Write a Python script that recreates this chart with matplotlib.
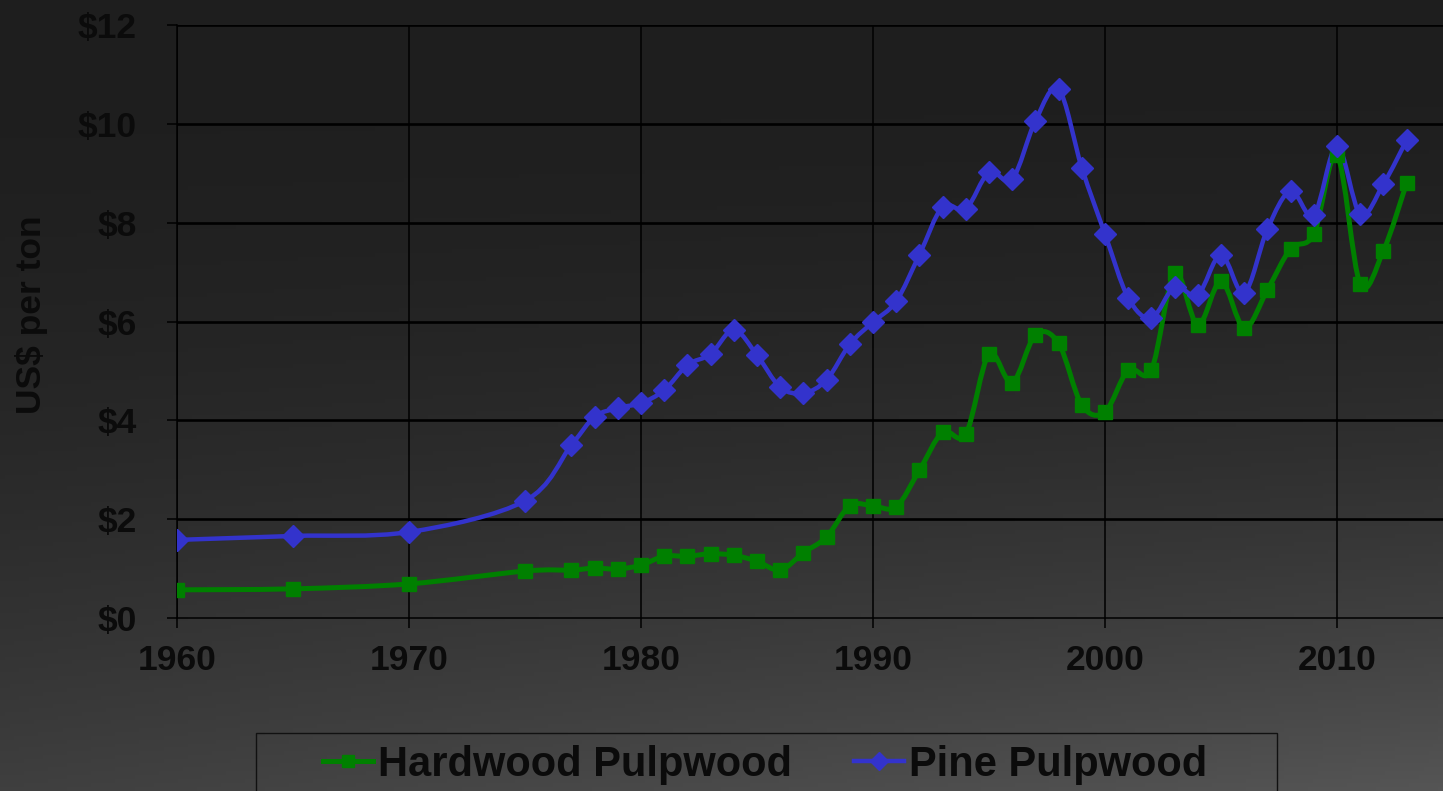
import matplotlib
matplotlib.use("Agg")
import matplotlib.pyplot as plt
from matplotlib.lines import Line2D
from matplotlib.path import Path
from matplotlib.patches import PathPatch, Rectangle
import numpy as np

# data
years = [1960, 1965, 1970, 1975, 1977, 1978, 1979, 1980, 1981, 1982, 1983, 1984,
         1985, 1986, 1987, 1988, 1989, 1990, 1991, 1992, 1993, 1994, 1995, 1996,
         1997, 1998, 1999, 2000, 2001, 2002, 2003, 2004, 2005, 2006, 2007, 2008,
         2009, 2010, 2011, 2012, 2013]
hardwood = [0.57, 0.59, 0.69, 0.95, 0.97, 1.01, 0.99, 1.07, 1.25, 1.25, 1.30, 1.27,
            1.15, 0.97, 1.32, 1.64, 2.27, 2.27, 2.25, 2.99, 3.76, 3.72, 5.34, 4.76,
            5.73, 5.56, 4.31, 4.17, 5.02, 5.02, 6.98, 5.93, 6.82, 5.87, 6.64, 7.47,
            7.77, 9.37, 6.76, 7.43, 8.80]
pine = [1.58, 1.66, 1.74, 2.37, 3.50, 4.07, 4.25, 4.35, 4.61, 5.12, 5.34, 5.83,
        5.32, 4.67, 4.55, 4.82, 5.54, 5.99, 6.41, 7.35, 8.32, 8.28, 9.02, 8.88,
        10.06, 10.70, 9.11, 7.77, 6.48, 6.07, 6.70, 6.54, 7.35, 6.58, 7.87, 8.64,
        8.15, 9.55, 8.17, 8.78, 9.67]
series_names = ["Hardwood Pulpwood", "Pine Pulpwood"]
yticks = [0, 2, 4, 6, 8, 10, 12]
xticks = [1960, 1970, 1980, 1990, 2000, 2010]

GREEN = "#008000"
BLUE = "#3333CC"
TEXT = "#0b0b0b"

plt.rcParams["font.family"] = ["Liberation Sans", "DejaVu Sans"]
plt.rcParams["font.weight"] = "bold"


def smooth_path(x, y):
    """Excel-style smoothed line as cubic Bezier segments through the points."""
    pts = np.column_stack([x, y]).astype(float)
    n = len(pts)
    verts = [pts[0]]
    codes = [Path.MOVETO]
    for i in range(n - 1):
        p0 = pts[i - 1] if i > 0 else pts[i]
        p1 = pts[i]
        p2 = pts[i + 1]
        p3 = pts[i + 2] if i + 2 < n else pts[i + 1]
        verts += [p1 + (p2 - p0) / 6.0, p2 - (p3 - p1) / 6.0, p2]
        codes += [Path.CURVE4] * 3
    return Path(verts, codes)


W, H = 1443, 791
fig = plt.figure(figsize=(W / 100, H / 100), dpi=100)

# gradient backdrop, darker at top, lighter toward bottom right
bg = fig.add_axes([0, 0, 1, 1], zorder=-10)
ty = np.linspace(0, 1, 200)[:, None]
tx = np.linspace(0, 1, 300)[None, :]
v = (30 + 33 * ty ** 2 + 22 * tx * ty ** 2) / 255.0
bg.imshow(np.dstack([v, v, v]), aspect="auto", extent=[0, 1, 1, 0])
bg.set_axis_off()

ax = fig.add_axes([177 / W, 1 - 618 / H, 1 - 177 / W, (618 - 25) / H])
ax.set_facecolor("none")

for vals, color in [(hardwood, GREEN), (pine, BLUE)]:
    lw = 3.6 if color == GREEN else 3.2
    ax.add_patch(PathPatch(smooth_path(years, vals), facecolor="none",
                           edgecolor=color, lw=lw, zorder=3))
ax.plot(years, hardwood, ls="none", marker="s", ms=10.5, color=GREEN, zorder=4)
ax.plot(years, pine, ls="none", marker="D", ms=10.8, color=BLUE, zorder=5)

ax.set_xlim(1960, 1960 + (W - 177) / 23.2)
ax.set_ylim(0, 12)
ax.set_xticks(xticks)
ax.set_yticks(yticks)
ax.set_yticklabels([f"${t}" for t in yticks])

ax.grid(axis="y", color="black", lw=1.9)
ax.grid(axis="x", color="black", lw=1.1)
ax.yaxis.get_gridlines()[0].set_visible(False)
ax.set_axisbelow(True)

for side in ["top", "right"]:
    ax.spines[side].set_visible(False)
for side in ["left", "bottom"]:
    ax.spines[side].set_color("black")
    ax.spines[side].set_linewidth(1.1)

ax.tick_params(axis="both", colors="black", length=7, width=1.1,
               labelsize=25.5, labelcolor=TEXT)
ax.tick_params(axis="y", pad=22)
ax.tick_params(axis="x", pad=12)

fig.text(32 / W, 1 - 315 / H, "US$ per ton", rotation=90, ha="center",
         va="center", fontsize=25.5, color=TEXT, fontweight="bold")

# legend frame runs off the bottom edge, as in the reference
fig.patches.append(Rectangle((256 / W, -0.05), (1277 - 256) / W, 1 - 733 / H + 0.05,
                             transform=fig.transFigure, facecolor="none",
                             edgecolor="#111111", lw=1.0))
handles = [
    Line2D([], [], color=GREEN, lw=3.6, marker="s", ms=8.5),
    Line2D([], [], color=BLUE, lw=3.2, marker="D", ms=9),
]
leg = fig.legend(handles, series_names, loc="center", ncol=2,
                 bbox_to_anchor=(765 / W, 1 - 765 / H), fontsize=30,
                 frameon=False, handlelength=1.2, handletextpad=0.12,
                 columnspacing=1.5, borderpad=0, borderaxespad=0)
for t in leg.get_texts():
    t.set_color(TEXT)
    t.set_fontweight("bold")

fig.savefig("out.png", dpi=100)
